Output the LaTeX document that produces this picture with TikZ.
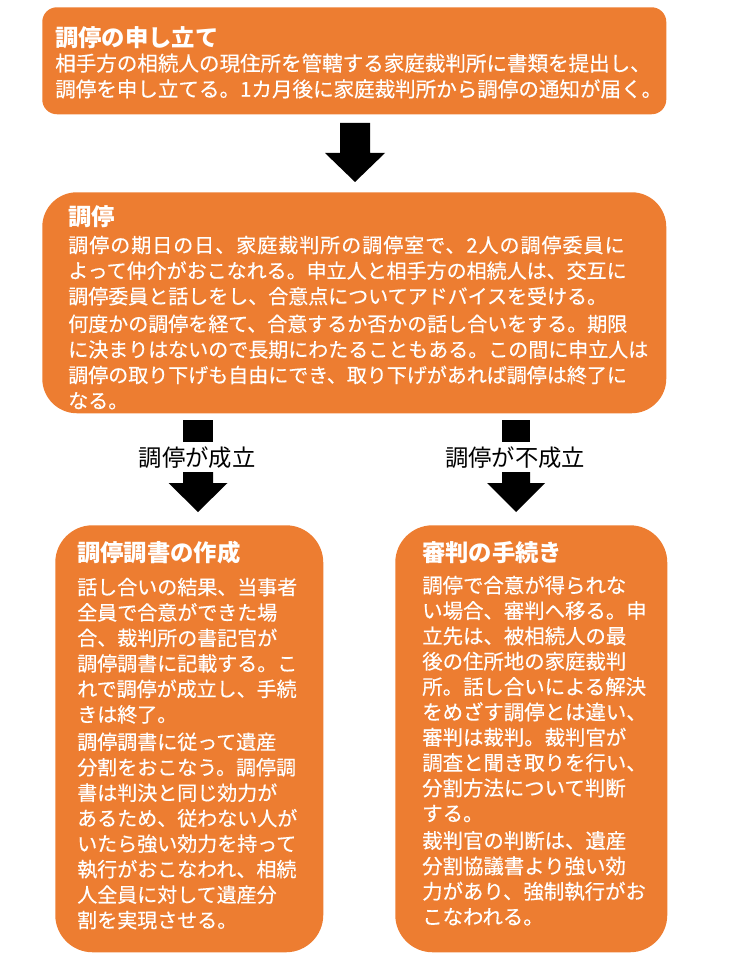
\documentclass[tikz,border=0pt]{standalone}
\usepackage{fontspec}
\setmainfont{Noto Sans CJK JP}
\newfontfamily\bodyjp{Noto Sans CJK JP}[FakeBold=0.4]
\newfontfamily\bodyjpwide{Noto Sans CJK JP}[FakeBold=0.4, LetterSpace=5]
\definecolor{boxorange}{HTML}{ED7D31}
\tikzset{
  box/.style={fill=boxorange, draw=none, anchor=north west, inner sep=0pt},
  ttl/.style={anchor=base west, inner sep=0pt, text=white, font=\fontsize{17.5}{21}\selectfont\bfseries},
  body/.style={anchor=base west, inner sep=0pt, text=white, align=left, text width=540pt},
  lbl/.style={inner sep=0pt, text=black, font=\fontsize{17.5}{21}\selectfont},
  blk/.style={fill=black, draw=none},
}
\begin{document}
\begin{tikzpicture}[x=0.75pt,y=-0.75pt]
\useasboundingbox (0,0) rectangle (741,962);
% boxes
\node[box, rounded corners=11pt, minimum width={624*0.75pt}, minimum height={107*0.75pt}] (top) at (42,7) {};
\node[box, rounded corners=26pt, minimum width={624*0.75pt}, minimum height={221*0.75pt}] (mid) at (42,192) {};
\node[box, rounded corners=28pt, minimum width={268*0.75pt}, minimum height={427*0.75pt}] (left) at (55,525) {};
\node[box, rounded corners=28pt, minimum width={272*0.75pt}, minimum height={427*0.75pt}] (right) at (395,525) {};
% texts
\node[ttl] (t1) at (55,46.5) {調停の申し立て};
\node[body, font=\bodyjp\fontsize{15.4}{19.3}\selectfont] (b1) at (55,71) {相手方の相続人の現住所を管轄する家庭裁判所に書類を提出し、\\調停を申し立てる。1カ月後に家庭裁判所から調停の通知が届く。};
\node[ttl] (t2) at (68,226) {調停};
\node[body, font=\bodyjp\fontsize{15}{19.2}\selectfont] (b2) at (68,252.6) {{\bodyjpwide 調停の期日の日、家庭裁判所の調停室で、2人の調停委員に}\\よって仲介がおこなれる。申立人と相手方の相続人は、交互に\\調停委員と話しをし、合意点についてアドバイスを受ける。\\[1.5pt]何度かの調停を経て、合意するか否かの話し合いをする。期限\\に決まりはないので長期にわたることもある。この間に申立人は\\調停の取り下げも自由にでき、取り下げがあれば調停は終了に\\なる。};
\node[ttl] (t3) at (77,561) {調停調書の作成};
\node[body, font=\bodyjp\fontsize{15}{19.1}\selectfont] (b3) at (77,594.6) {話し合いの結果、当事者\\全員で合意ができた場\\合、裁判所の書記官が\\調停調書に記載する。こ\\れで調停が成立し、手続\\きは終了。\\[1.5pt]調停調書に従って遺産\\分割をおこなう。調停調\\書は判決と同じ効力が\\あるため、従わない人が\\いたら強い効力を持って\\執行がおこなわれ、相続\\人全員に対して遺産分\\割を実現させる。};
\node[ttl] (t4) at (422,561) {審判の手続き};
\node[body, font=\bodyjp\fontsize{15.3}{19}\selectfont] (b4) at (422,593) {調停で合意が得られな\\い場合、審判へ移る。申\\立先は、被相続人の最\\後の住所地の家庭裁判\\所。話し合いによる解決\\をめざす調停とは違い、\\審判は裁判。裁判官が\\調査と聞き取りを行い、\\分割方法について判断\\する。\\[1.5pt]裁判官の判断は、遺産\\分割協議書より強い効\\力があり、強制執行がお\\こなわれる。};
% top arrow
\coordinate (a0) at (355,123);
\fill[blk] (a0) ++(-15,0) -- ++(30,0) -- ++(0,30) -- ++(15,0) -- ++(-30,29) -- ++(-30,-29) -- ++(15,0) -- cycle;
% left branch
\node[blk, minimum width={30*0.75pt}, minimum height={22*0.75pt}, inner sep=0pt] (sqL) at (198,431) {};
\node[lbl] (lblL) at (197,458) {調停が成立};
\coordinate (aL) at (198,472);
\fill[blk] (aL) ++(-15,0) -- ++(30,0) -- ++(0,11) -- ++(14.5,0) -- ++(-29.5,29) -- ++(-29.5,-29) -- ++(14.5,0) -- cycle;
% right branch
\node[blk, minimum width={28*0.75pt}, minimum height={22*0.75pt}, inner sep=0pt] (sqR) at (516,431) {};
\node[lbl] (lblR) at (515,458) {調停が不成立};
\coordinate (aR) at (516,472);
\fill[blk] (aR) ++(-14,0) -- ++(28,0) -- ++(0,11) -- ++(15,0) -- ++(-29,29) -- ++(-29,-29) -- ++(15,0) -- cycle;
\end{tikzpicture}
\end{document}
